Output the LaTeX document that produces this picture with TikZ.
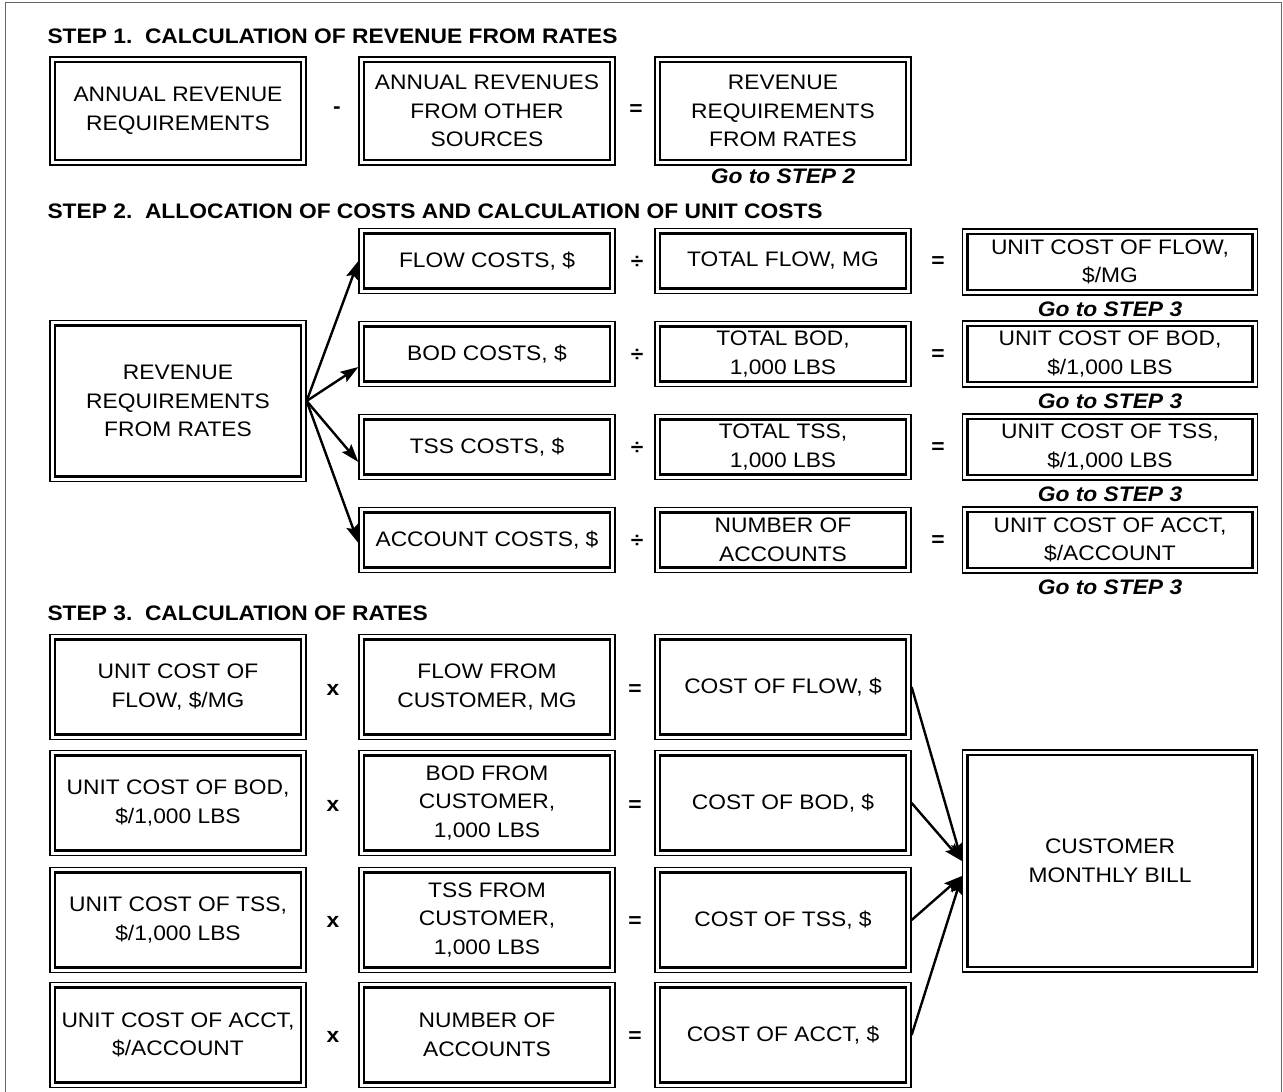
\documentclass[tikz,border=0pt]{standalone}
\usepackage{fontspec}
\setmainfont{Liberation Sans}[FakeStretch=1.085]
\usetikzlibrary{positioning,arrows.meta}
\tikzset{
  >={Stealth[length=18pt,width=12pt,inset=3pt]},
  every node/.style={font=\fontsize{21}{28.5}\selectfont},
  dbox/.style={draw, line width=1.3pt, align=center, inner sep=2pt,
    path picture={\draw[line width=2.8pt]
      ([shift={(5pt,-5pt)}]path picture bounding box.north west) rectangle
      ([shift={(-5pt,5pt)}]path picture bounding box.south east);}},
  narrow/.style={dbox, minimum width=256pt},
  wide/.style={dbox, minimum width=295pt},
  oper/.style={font=\fontsize{21}{28.5}\selectfont\bfseries},
  steptitle/.style={anchor=west, font=\fontsize{21}{25}\selectfont\bfseries},
  goto/.style={inner sep=1pt, font=\fontsize{21}{25}\selectfont\bfseries\itshape}
}
\begin{document}
\begin{tikzpicture}[x=1pt,y=-1pt,line width=2.4pt]
  \useasboundingbox (0,0) rectangle (1283,1092);
  \draw[line width=0.8pt, black!60] (5,2) rectangle (1281,1100);

  % step 1
  \node[steptitle] (t_1) at (43,36) {STEP 1.\ \ CALCULATION OF REVENUE FROM RATES};
  \node[narrow, minimum height=108pt] (ann_rev) at (178,111) {ANNUAL REVENUE\\REQUIREMENTS};
  \node[oper] (op_11) at (337,110) {-};
  \node[narrow, minimum height=108pt] (oth_rev) at (487,111) {ANNUAL REVENUES\\FROM OTHER\\SOURCES};
  \node[oper] (op_12) at (636,110) {=};
  \node[narrow, minimum height=108pt] (rate_rev) at (783,111) {REVENUE\\REQUIREMENTS\\FROM RATES};
  \node[goto, below=1pt of rate_rev] (go_2) {Go to STEP 2};

  % step 2
  \node[steptitle] (t_2) at (43,211) {STEP 2.\ \ ALLOCATION OF COSTS AND CALCULATION OF UNIT COSTS};
  \node[narrow, minimum height=161pt] (rev_rates) at (178,401) {REVENUE\\REQUIREMENTS\\FROM RATES};

  \node[narrow, minimum height=65pt] (flow_c) at (487,261) {FLOW COSTS, \$};
  \node[narrow, minimum height=65pt] (bod_c) at (487,354) {BOD COSTS, \$};
  \node[narrow, minimum height=65pt] (tss_c) at (487,447) {TSS COSTS, \$};
  \node[narrow, minimum height=65pt] (acct_c) at (487,540) {ACCOUNT COSTS, \$};

  \node[oper] (op_21) at (637,262) {÷};
  \node[oper] (op_22) at (637,355) {÷};
  \node[oper] (op_23) at (637,448) {÷};
  \node[oper] (op_24) at (637,541) {÷};

  \node[narrow, minimum height=65pt] (tot_flow) at (783,261) {TOTAL FLOW, MG};
  \node[narrow, minimum height=65pt] (tot_bod) at (783,354) {TOTAL BOD,\\1,000 LBS};
  \node[narrow, minimum height=65pt] (tot_tss) at (783,447) {TOTAL TSS,\\1,000 LBS};
  \node[narrow, minimum height=65pt] (num_acct) at (783,540) {NUMBER OF\\ACCOUNTS};

  \node[oper] (op_25) at (938,262) {=};
  \node[oper] (op_26) at (938,355) {=};
  \node[oper] (op_27) at (938,448) {=};
  \node[oper] (op_28) at (938,541) {=};

  \node[wide, minimum height=66pt] (uc_flow) at (1110,262) {UNIT COST OF FLOW,\\\$/MG};
  \node[wide, minimum height=66pt] (uc_bod) at (1110,354) {UNIT COST OF BOD,\\\$/1,000 LBS};
  \node[wide, minimum height=66pt] (uc_tss) at (1110,447) {UNIT COST OF TSS,\\\$/1,000 LBS};
  \node[wide, minimum height=66pt] (uc_acct) at (1110,540) {UNIT COST OF ACCT,\\\$/ACCOUNT};
  \node[goto, below=4pt of uc_flow] (go_31) {Go to STEP 3};
  \node[goto, below=4pt of uc_bod] (go_32) {Go to STEP 3};
  \node[goto, below=4pt of uc_tss] (go_33) {Go to STEP 3};
  \node[goto, below=4pt of uc_acct] (go_34) {Go to STEP 3};

  \path[->] (rev_rates.east) edge (flow_c.west)
    (rev_rates.east) edge ([yshift=-13pt]bod_c.west)
    (rev_rates.east) edge ([yshift=-15pt]tss_c.west)
    (rev_rates.east) edge ([yshift=-3pt]acct_c.west);

  % step 3
  \node[steptitle] (t_3) at (43,613) {STEP 3.\ \ CALCULATION OF RATES};
  \node[narrow, minimum height=105pt] (ucf) at (178,687) {UNIT COST OF\\FLOW, \$/MG};
  \node[narrow, minimum height=105pt] (ucb) at (178,803) {UNIT COST OF BOD,\\\$/1,000 LBS};
  \node[narrow, minimum height=105pt] (uct) at (178,920) {UNIT COST OF TSS,\\\$/1,000 LBS};
  \node[narrow, minimum height=105pt] (uca) at (178,1035) {UNIT COST OF ACCT,\\\$/ACCOUNT};

  \node[oper] (op_31) at (333,690) {x};
  \node[oper] (op_32) at (333,806) {x};
  \node[oper] (op_33) at (333,922) {x};
  \node[oper] (op_34) at (333,1037) {x};

  \node[narrow, minimum height=105pt] (cust_flow) at (487,687) {FLOW FROM\\CUSTOMER, MG};
  \node[narrow, minimum height=105pt] (cust_bod) at (487,803) {BOD FROM\\CUSTOMER,\\1,000 LBS};
  \node[narrow, minimum height=105pt] (cust_tss) at (487,920) {TSS FROM\\CUSTOMER,\\1,000 LBS};
  \node[narrow, minimum height=105pt] (cust_acct) at (487,1035) {NUMBER OF\\ACCOUNTS};

  \node[oper] (op_35) at (635,690) {=};
  \node[oper] (op_36) at (635,806) {=};
  \node[oper] (op_37) at (635,922) {=};
  \node[oper] (op_38) at (635,1037) {=};

  \node[narrow, minimum height=105pt] (cost_flow) at (783,687) {COST OF FLOW, \$};
  \node[narrow, minimum height=105pt] (cost_bod) at (783,803) {COST OF BOD, \$};
  \node[narrow, minimum height=105pt] (cost_tss) at (783,920) {COST OF TSS, \$};
  \node[narrow, minimum height=105pt] (cost_acct) at (783,1035) {COST OF ACCT, \$};

  \node[wide, minimum height=222pt] (bill) at (1110,861) {CUSTOMER\\MONTHLY BILL};

  \path[->] (cost_flow.east) edge (bill.west)
    (cost_bod.east) edge (bill.west)
    (cost_tss.east) edge ([yshift=-15pt]bill.west)
    (cost_acct.east) edge ([yshift=-15pt]bill.west);
\end{tikzpicture}
\end{document}
